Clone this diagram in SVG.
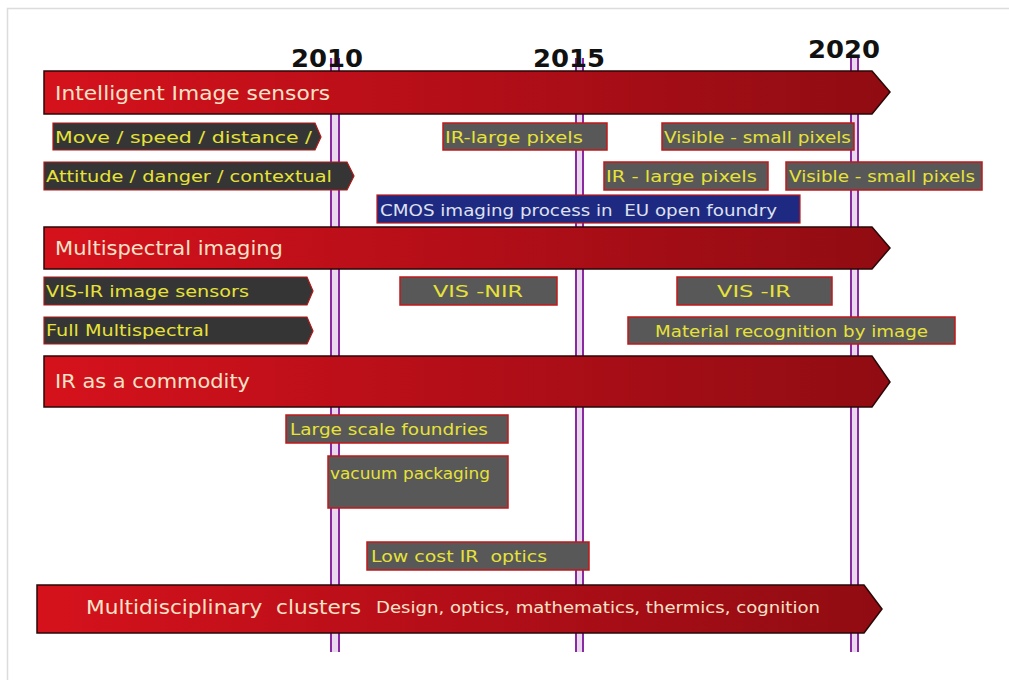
<svg xmlns="http://www.w3.org/2000/svg" width="1009" height="680" viewBox="0 0 1009 680">
<defs>
<linearGradient id="red" x1="0" y1="0" x2="1" y2="0">
<stop offset="0" stop-color="#d5121c"/>
<stop offset="0.5" stop-color="#b30e18"/>
<stop offset="1" stop-color="#900c12"/>
</linearGradient>
<style>
.main{fill:url(#red);stroke:#2a0808;stroke-width:1.5}
.mt{font-family:"DejaVu Sans",sans-serif;font-size:19px;fill:#f8e2c8;white-space:pre}
.mt2{font-family:"DejaVu Sans",sans-serif;font-size:15px;fill:#f8e2c8}
.sub{fill:#353535;stroke:#b01818;stroke-width:1.2}
.box{fill:#585858;stroke:#c01818;stroke-width:1.5}
.blue{fill:#1e2a82;stroke:#c01818;stroke-width:1.2}
.st{font-family:"DejaVu Sans",sans-serif;font-size:15px;fill:#e6e23a;white-space:pre}
.bt{font-family:"DejaVu Sans",sans-serif;font-size:15px;fill:#dfe0f0;white-space:pre}
.yr{font-family:"DejaVu Sans",sans-serif;font-size:25px;font-weight:bold;fill:#111}
.yl{stroke:#8a2aa0;stroke-width:2}
.yf{fill:#ead8ee}
</style>
</defs>
<rect x="0" y="0" width="1009" height="680" fill="#fff"/>
<path d="M7.5,680 V8.5 H1009" fill="none" stroke="#dcdcdc" stroke-width="1.5"/>

<g id="connectors">
<rect class="yf" x="331" y="58" width="8" height="594"/>
<line class="yl" x1="331" y1="58" x2="331" y2="652"/>
<line class="yl" x1="339" y1="58" x2="339" y2="652"/>
<rect class="yf" x="576" y="58" width="7" height="594"/>
<line class="yl" x1="576" y1="58" x2="576" y2="652"/>
<line class="yl" x1="583" y1="58" x2="583" y2="652"/>
<rect class="yf" x="851" y="58" width="7" height="594"/>
<line class="yl" x1="851" y1="58" x2="851" y2="652"/>
<line class="yl" x1="858" y1="58" x2="858" y2="652"/>
</g>

<g id="years">
<text class="yr" x="291" y="67" textLength="72" lengthAdjust="spacingAndGlyphs">2010</text>
<text class="yr" x="533" y="67" textLength="72" lengthAdjust="spacingAndGlyphs">2015</text>
<text class="yr" x="808" y="58" textLength="72" lengthAdjust="spacingAndGlyphs">2020</text>
</g>

<g id="intelligent">
<path class="main" d="M44,71 H872 L890,92 L872,114 H44 Z"/>
<text class="mt" x="55" y="100" textLength="275" lengthAdjust="spacingAndGlyphs">Intelligent Image sensors</text>
</g>
<g id="move">
<path class="sub" d="M53,123 H315 L321,137 L315,150 H53 Z"/>
<text class="st" x="55" y="143" textLength="257" lengthAdjust="spacingAndGlyphs">Move / speed / distance /</text>
</g>
<g id="attitude">
<path class="sub" d="M44,162 H347 L354,176 L347,190 H44 Z"/>
<text class="st" x="46" y="182" textLength="286" lengthAdjust="spacingAndGlyphs">Attitude / danger / contextual</text>
</g>
<g id="ir-large-1">
<rect class="box" x="443" y="123" width="164" height="27"/>
<text class="st" x="445" y="143" textLength="138" lengthAdjust="spacingAndGlyphs">IR-large pixels</text>
</g>
<g id="visible-small-1">
<rect class="box" x="662" y="123" width="192" height="27"/>
<text class="st" x="664" y="143" textLength="187" lengthAdjust="spacingAndGlyphs">Visible - small pixels</text>
</g>
<g id="ir-large-2">
<rect class="box" x="604" y="162" width="164" height="28"/>
<text class="st" x="606" y="182" textLength="151" lengthAdjust="spacingAndGlyphs">IR - large pixels</text>
</g>
<g id="visible-small-2">
<rect class="box" x="786" y="162" width="196" height="28"/>
<text class="st" x="789" y="182" textLength="186" lengthAdjust="spacingAndGlyphs">Visible - small pixels</text>
</g>
<g id="cmos">
<rect class="blue" x="377" y="195" width="423" height="28"/>
<text class="bt" x="380" y="216" textLength="397" lengthAdjust="spacingAndGlyphs" xml:space="preserve">CMOS imaging process in  EU open foundry</text>
</g>

<g id="multispectral">
<path class="main" d="M44,227 H872 L890,248 L872,269 H44 Z"/>
<text class="mt" x="55" y="255" textLength="228" lengthAdjust="spacingAndGlyphs">Multispectral imaging</text>
</g>
<g id="vis-ir-sensors">
<path class="sub" d="M44,277 H307 L313,291 L307,305 H44 Z"/>
<text class="st" x="46" y="297" textLength="203" lengthAdjust="spacingAndGlyphs">VIS-IR image sensors</text>
</g>
<g id="full-multispectral">
<path class="sub" d="M44,317 H307 L313,331 L307,344 H44 Z"/>
<text class="st" x="46" y="336" textLength="163" lengthAdjust="spacingAndGlyphs">Full Multispectral</text>
</g>
<g id="vis-nir">
<rect class="box" x="400" y="277" width="157" height="28"/>
<text class="st" x="433" y="297" textLength="90" lengthAdjust="spacingAndGlyphs">VIS -NIR</text>
</g>
<g id="vis-ir">
<rect class="box" x="677" y="277" width="155" height="28"/>
<text class="st" x="717" y="297" textLength="74" lengthAdjust="spacingAndGlyphs">VIS -IR</text>
</g>
<g id="material">
<rect class="box" x="628" y="317" width="327" height="27"/>
<text class="st" x="655" y="337" textLength="273" lengthAdjust="spacingAndGlyphs">Material recognition by image</text>
</g>

<g id="ir-commodity">
<path class="main" d="M44,356 H872 L890,382 L872,407 H44 Z"/>
<text class="mt" x="55" y="388" textLength="195" lengthAdjust="spacingAndGlyphs">IR as a commodity</text>
</g>
<g id="large-scale">
<rect class="box" x="286" y="415" width="222" height="28"/>
<text class="st" x="290" y="435" textLength="198" lengthAdjust="spacingAndGlyphs">Large scale foundries</text>
</g>
<g id="vacuum">
<rect class="box" x="328" y="456" width="180" height="52"/>
<text class="st" x="330" y="479" textLength="160" lengthAdjust="spacingAndGlyphs">vacuum packaging</text>
</g>
<g id="low-cost">
<rect class="box" x="367" y="542" width="222" height="28"/>
<text class="st" x="371" y="562" textLength="176" lengthAdjust="spacingAndGlyphs" xml:space="preserve">Low cost IR  optics</text>
</g>

<g id="multidisciplinary">
<path class="main" d="M37,585 H864 L882,609 L864,633 H37 Z"/>
<text class="mt" x="86" y="614" textLength="275" lengthAdjust="spacingAndGlyphs" xml:space="preserve">Multidisciplinary  clusters</text>
<text class="mt2" x="376" y="613" textLength="444" lengthAdjust="spacingAndGlyphs">Design, optics, mathematics, thermics, cognition</text>
</g>
</svg>
